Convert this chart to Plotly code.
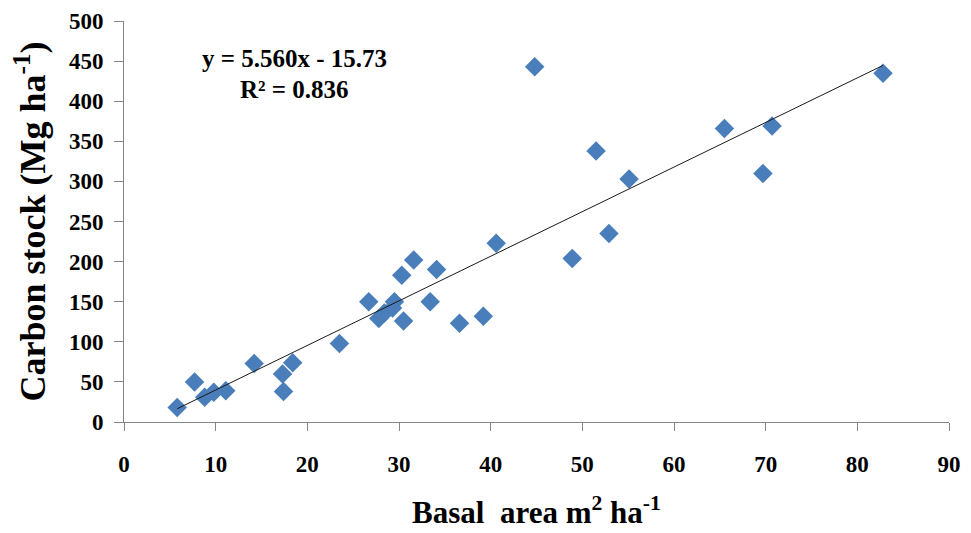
import plotly.graph_objects as go

# values
basal_area = [5.8, 7.7, 8.8, 9.8, 11.1, 14.2, 17.3, 17.4, 18.4, 23.5,
              26.7, 27.8, 28.4, 29.3, 29.5, 30.3, 30.5, 31.6, 33.4, 34.1,
              36.6, 39.2, 40.6, 44.8, 48.9, 51.5, 52.9, 55.1, 65.5, 69.7,
              70.7, 82.8]
carbon_stock = [18, 50, 31, 37, 39, 73, 60, 38, 74, 98,
                150, 129, 136, 142, 150, 183, 126, 202, 150, 190,
                123, 132, 223, 443, 204, 338, 235, 303, 366, 310,
                369, 435]

slope, intercept = 5.560, -15.73
fit_x = [min(basal_area), max(basal_area)]
fit_y = [slope * v + intercept for v in fit_x]

x_ticks = list(range(0, 91, 10))
y_ticks = list(range(0, 501, 50))

serif = "Times New Roman, Liberation Serif, serif"
axis_grey = "#868686"

fig = go.Figure()
fig.add_trace(go.Scatter(
    x=basal_area, y=carbon_stock, mode="markers",
    marker=dict(symbol="diamond", size=15, color="#4a7ebb"),
    showlegend=False,
))
fig.add_trace(go.Scatter(
    x=fit_x, y=fit_y, mode="lines",
    line=dict(color="#1a1a1a", width=1),
    showlegend=False,
))

fig.add_annotation(x=18.6, y=453, text="y = 5.560x - 15.73", showarrow=False,
                   font=dict(family=serif, size=25, color="black", weight="bold"))
fig.add_annotation(x=18.6, y=414, text="R² = 0.836", showarrow=False,
                   font=dict(family=serif, size=25, color="black", weight="bold"))

fig.update_xaxes(
    range=[0, 90], tickvals=x_ticks, showgrid=False, zeroline=False,
    showline=True, linecolor=axis_grey, linewidth=1, automargin=False,
    ticks="outside", ticklen=8, tickcolor=axis_grey, ticklabelstandoff=13,
    ticklabeloverflow="allow",
    tickfont=dict(family=serif, size=23, color="black", weight="bold"),
    title=dict(text="Basal\u00a0 area m<sup>2</sup> ha<sup>-1</sup>", standoff=25,
               font=dict(family=serif, size=31, color="black", weight="bold")),
)
fig.update_yaxes(
    range=[0, 500], tickvals=y_ticks, showgrid=False, zeroline=False,
    showline=True, linecolor=axis_grey, linewidth=1, automargin=False,
    ticks="outside", ticklen=9, tickcolor=axis_grey, ticklabelstandoff=6,
    ticklabeloverflow="allow",
    tickfont=dict(family=serif, size=23, color="black", weight="bold"),
    title=dict(text="Carbon stock (Mg ha<sup>-1</sup>)", standoff=32,
               font=dict(family=serif, size=36, color="black", weight="bold")),
)
# page body adds an 8px offset, so the figure is sized to fit the window
fig.update_layout(
    width=963, height=525,
    margin=dict(l=116, r=22, t=13, b=111),
    plot_bgcolor="white", paper_bgcolor="white",
)

fig.write_html("out.html")
